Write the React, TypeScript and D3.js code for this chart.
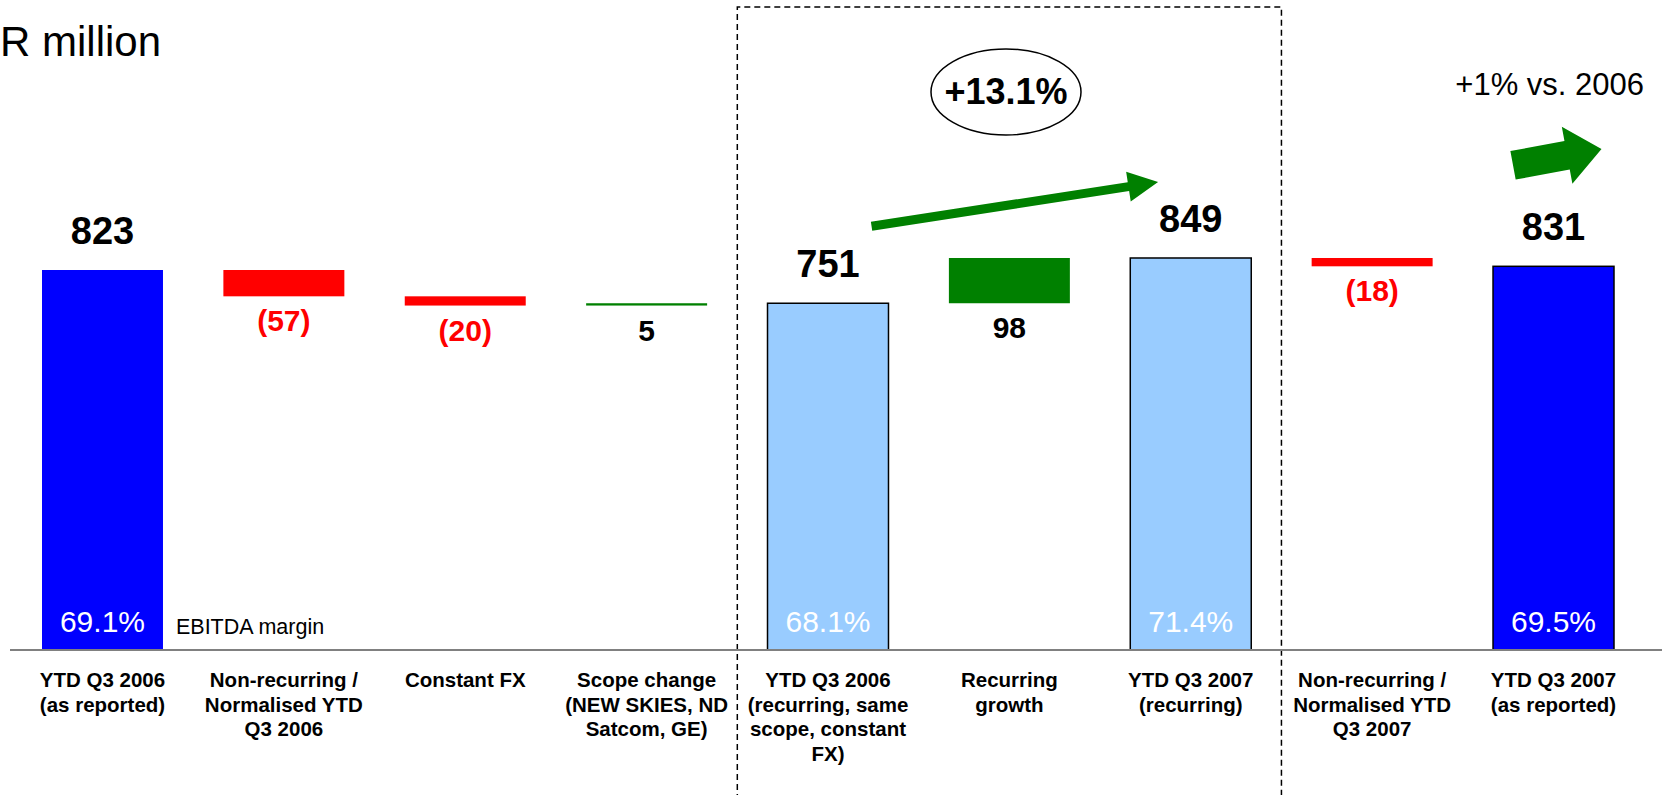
import React, { useMemo } from 'react'
import * as d3 from 'd3'

const categories: string[][] = [
  ['YTD Q3 2006', '(as reported)'],
  ['Non-recurring /', 'Normalised YTD', 'Q3 2006'],
  ['Constant FX'],
  ['Scope change', '(NEW SKIES, ND', 'Satcom, GE)'],
  ['YTD Q3 2006', '(recurring, same', 'scope, constant', 'FX)'],
  ['Recurring', 'growth'],
  ['YTD Q3 2007', '(recurring)'],
  ['Non-recurring /', 'Normalised YTD', 'Q3 2007'],
  ['YTD Q3 2007', '(as reported)'],
]
const values = [823, -57, -20, 5, 751, 98, 849, -18, 831]
const kinds = ['total', 'delta', 'delta', 'delta', 'subtotal', 'delta', 'subtotal', 'delta', 'total']
const valueLabels = ['823', '(57)', '(20)', '5', '751', '98', '849', '(18)', '831']
const marginLabels: (string | null)[] = ['69.1%', null, null, null, '68.1%', null, '71.4%', null, '69.5%']
const growthLabel = '+13.1%'
const vsLabel = '+1% vs. 2006'
const unitLabel = 'R million'
const marginCaption = 'EBITDA margin'

const W = 1662
const H = 795
const FONT = "'Liberation Sans', Arial, Helvetica, sans-serif"
const GREEN = '#008000'

// block arrow drawn along +x, then rotated into place
const arrowPoints = (shaftLen: number, shaftHW: number, len: number, headHW: number) =>
  [
    [0, -shaftHW],
    [shaftLen, -shaftHW],
    [shaftLen, -headHW],
    [len, 0],
    [shaftLen, headHW],
    [shaftLen, shaftHW],
    [0, shaftHW],
  ]
    .map((p) => p.join(','))
    .join(' ')

export default function App() {
  const x = useMemo(
    () => d3.scaleBand<number>().domain(d3.range(values.length)).range([42, 1614]).paddingInner(0.333).paddingOuter(0),
    []
  )
  const y = useMemo(() => d3.scaleLinear().domain([0, 823]).range([650, 270]), [])

  const bars = useMemo(() => {
    let running = 0
    return values.map((v, i) => {
      let lo: number
      let hi: number
      if (kinds[i] === 'delta') {
        lo = Math.min(running, running + v)
        hi = Math.max(running, running + v)
        running += v
      } else {
        lo = 0
        hi = v
        running = v
      }
      return { i, v, lo, hi, kind: kinds[i] }
    })
  }, [])

  const bw = x.bandwidth()
  const step = x.step()
  const gap = (step - bw) / 2
  const boxLeft = (x(4) ?? 0) - gap
  const boxRight = (x(6) ?? 0) + bw + gap

  const fillFor = (b: { kind: string; v: number }) => {
    if (b.kind === 'total') return '#0000FF'
    if (b.kind === 'subtotal') return '#99CCFF'
    return b.v < 0 ? '#FF0000' : GREEN
  }

  // recurring growth arrow geometry
  const a1x = (x(4) ?? 0) + bw * 0.86
  const a1y = y(751) - 77
  const a1tx = (x(6) ?? 0) + bw * 0.23
  const a1ty = y(849) - 76
  const a1len = Math.hypot(a1tx - a1x, a1ty - a1y)
  const a1ang = (Math.atan2(a1ty - a1y, a1tx - a1x) * 180) / Math.PI

  const a2x = (x(8) ?? 0) + 20
  const a2y = y(831) - 101

  return (
    <svg
      width={W}
      height={H}
      viewBox={`0 0 ${W} ${H}`}
      style={{ position: 'absolute', left: 0, top: 0, background: '#fff', fontFamily: FONT }}
    >
      <rect width={W} height={H} fill="#fff" />

      <text x={0} y={56} fontSize={42} fill="#000">
        {unitLabel}
      </text>

      {/* dashed box round the recurring section */}
      <path
        d={`M${boxLeft},${H + 5} V7 H${boxRight} V${H + 5}`}
        fill="none"
        stroke="#000"
        strokeWidth={1.5}
        strokeDasharray="6,4"
      />

      {bars.map((b) => {
        const bx = x(b.i) ?? 0
        const top = y(b.hi)
        const bottom = y(b.lo)
        const stroked = b.kind === 'subtotal' || (b.kind === 'total' && b.i > 0)
        return (
          <g key={b.i}>
            <rect
              x={bx}
              y={top}
              width={bw}
              height={Math.max(bottom - top, 2)}
              fill={fillFor(b)}
              stroke={stroked ? '#000' : 'none'}
              strokeWidth={stroked ? 1.5 : 0}
            />
            {b.kind === 'delta' ? (
              <text
                x={bx + bw / 2}
                y={bottom + 35}
                textAnchor="middle"
                fontSize={30}
                fontWeight="bold"
                fill={b.v < 0 ? '#FF0000' : '#000'}
              >
                {valueLabels[b.i]}
              </text>
            ) : (
              <text x={bx + bw / 2} y={top - 26} textAnchor="middle" fontSize={38} fontWeight="bold" fill="#000">
                {valueLabels[b.i]}
              </text>
            )}
            {marginLabels[b.i] && (
              <text x={bx + bw / 2} y={632} textAnchor="middle" fontSize={30} fill="#fff">
                {marginLabels[b.i]}
              </text>
            )}
          </g>
        )
      })}

      <text x={(x(0) ?? 0) + bw + 13} y={634} fontSize={21.5} fill="#000">
        {marginCaption}
      </text>

      <line x1={10} x2={W} y1={y(0)} y2={y(0)} stroke="#808080" strokeWidth={2} />

      {categories.map((lines, i) => (
        <text
          key={i}
          x={(x(i) ?? 0) + bw / 2}
          y={687}
          textAnchor="middle"
          fontSize={20.5}
          fontWeight="bold"
          fill="#000"
        >
          {lines.map((l, j) => (
            <tspan key={j} x={(x(i) ?? 0) + bw / 2} dy={j === 0 ? 0 : 24.5}>
              {l}
            </tspan>
          ))}
        </text>
      ))}

      {/* +13.1% bubble */}
      <ellipse cx={1006} cy={92} rx={75} ry={43} fill="none" stroke="#000" strokeWidth={1.5} />
      <text x={1006} y={104} textAnchor="middle" fontSize={36} fontWeight="bold" fill="#000">
        {growthLabel}
      </text>

      <polygon
        points={arrowPoints(a1len - 30, 4.5, a1len, 15)}
        transform={`translate(${a1x},${a1y}) rotate(${a1ang})`}
        fill={GREEN}
      />

      <text x={1644} y={95} textAnchor="end" fontSize={31} fill="#000">
        {vsLabel}
      </text>
      <polygon
        points={arrowPoints(55, 14.5, 90, 29)}
        transform={`translate(${a2x},${a2y}) rotate(-10.5)`}
        fill={GREEN}
      />
    </svg>
  )
}
